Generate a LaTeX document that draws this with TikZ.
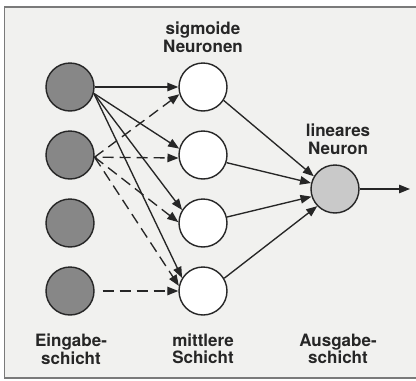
\documentclass[tikz,border=0pt]{standalone}
\usepackage{fontspec}
\setmainfont{TeX Gyre Heros}
\usetikzlibrary{arrows.meta}
\definecolor{bg}{HTML}{F1F1EF}
\definecolor{inp}{HTML}{878787}
\definecolor{outp}{HTML}{C9C9C9}
\definecolor{ink}{HTML}{262626}
\definecolor{framec}{HTML}{7A7A7A}
\begin{document}
\begin{tikzpicture}[x=1pt,y=-1pt,
  neuron/.style={circle,draw=ink,line width=1.4pt,minimum size=48pt,inner sep=0pt},
  inputn/.style={neuron,fill=inp},
  hiddenn/.style={neuron,fill=white},
  outputn/.style={neuron,fill=outp},
  conn/.style={draw=ink,line width=1.35pt,-{Triangle[length=11pt,width=8.5pt]}},
  dconn/.style={conn,dash pattern=on 11pt off 6pt},
  lbl/.style={font=\fontsize{17}{17.5}\selectfont\bfseries,text=ink,align=center}
]
\useasboundingbox (0,0) rectangle (416,381);
\fill[white] (0,0) rectangle (416,381);
\fill[bg] (4.5,7) rectangle (416,378);
\draw[framec,line width=1.2pt] (416,7) -- (4.5,7) -- (4.5,378) -- (416,378);

\node[inputn] (i1) at (70,87) {};
\node[inputn] (i2) at (70,155) {};
\node[inputn] (i3) at (70,223) {};
\node[inputn] (i4) at (70,291) {};
\node[hiddenn] (h1) at (203,87) {};
\node[hiddenn] (h2) at (203,155) {};
\node[hiddenn] (h3) at (203,223) {};
\node[hiddenn] (h4) at (203,291) {};
\node[outputn] (o) at (335,189) {};
\coordinate (out) at (410,189);

\draw[conn] (i1.east) -- (h1.180);
\draw[conn] (i1.-15) -- (h2.165);
\draw[conn] (i1.-15) -- (h3.148);
\draw[conn] (i1.-15) -- (h4.148);
\draw[dconn] (i2.-5) -- (h1.197);
\draw[dconn,dash phase=9pt] (i2.-5) -- (h2.187);
\draw[dconn] (i2.-5) -- (h3.178);
\draw[dconn] (i2.-5) -- (h4.168);
\draw[dconn,shorten <=8pt] (i4.east) -- (h4.180);

\draw[conn] (h1.-33) -- (o.149);
\draw[conn] (h2.-18) -- (o.166);
\draw[conn] (h3.14) -- (o.198);
\draw[conn] (h4.31) -- (o.224);
\draw[conn] (o.east) -- (out);

\node[lbl] (tsig) at (203,37) {sigmoide\\Neuronen};
\node[lbl] (tlin) at (338,139) {lineares\\Neuron};
\node[lbl] (tein) at (71,349) {Eingabe-\\schicht};
\node[lbl] (tmit) at (203,349) {mittlere\\Schicht};
\node[lbl] (taus) at (338,349) {Ausgabe-\\schicht};
\end{tikzpicture}
\end{document}
